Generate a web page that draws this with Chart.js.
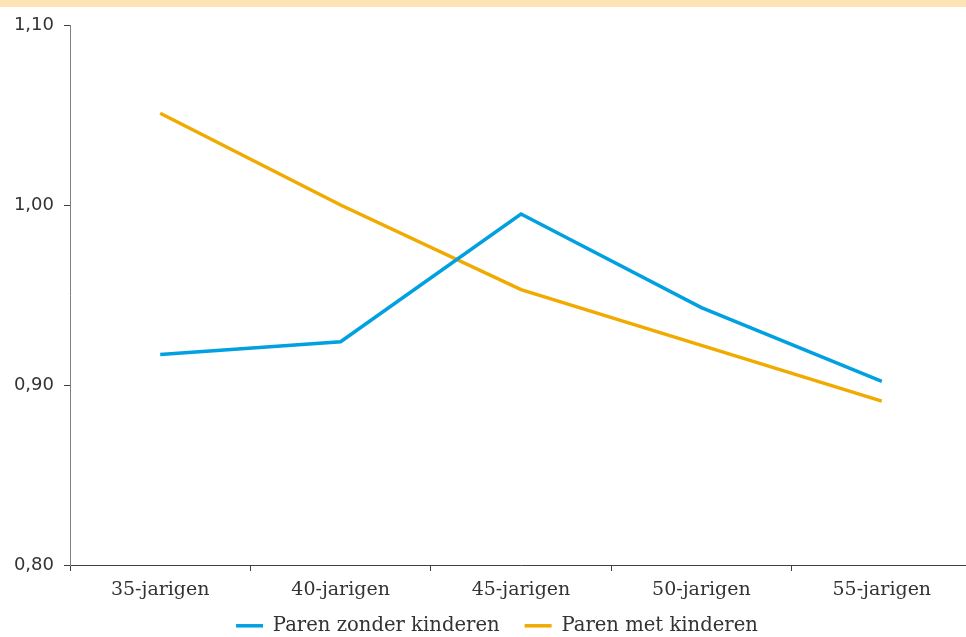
<!DOCTYPE html>
<html lang="nl">
<head>
<meta charset="utf-8">
<title>Paren met en zonder kinderen</title>
<script src="https://cdn.jsdelivr.net/npm/chart.js@4/dist/chart.umd.min.js"></script>
<style>
  html, body { margin: 0; padding: 0; background: #ffffff; overflow: hidden; }
  canvas { display: block; }
</style>
</head>
<body>
<canvas id="chart" width="972" height="637"></canvas>
<script>
// Leeftijdsgroepen op de x-as
const categories = ['35-jarigen', '40-jarigen', '45-jarigen', '50-jarigen', '55-jarigen'];
// Reeksen
const zonderKinderen = [0.917, 0.924, 0.995, 0.943, 0.902];
const metKinderen = [1.051, 1.000, 0.953, 0.922, 0.891];
// Waarden op de y-as
const yTicks = [0.80, 0.90, 1.00, 1.10];
const seriesNames = ['Paren zonder kinderen', 'Paren met kinderen'];

const textColor = '#333333';
const serifFont = '"DejaVu Serif", serif';
const sansFont = '"DejaVu Sans", sans-serif';

// Achtergrond met een lichte band bovenaan
const backdrop = {
  id: 'backdrop',
  beforeDraw(chart) {
    const ctx = chart.ctx;
    ctx.save();
    ctx.fillStyle = '#ffffff';
    ctx.fillRect(0, 0, chart.width, chart.height);
    ctx.fillStyle = '#FDE3B6';
    ctx.fillRect(0, 0, chart.width, 7);
    ctx.restore();
  }
};

// Legenda onder de as plaatsen, iets naar rechts gecentreerd
const legendBox = {
  id: 'legendBox',
  afterLayout(chart) {
    const lg = chart.legend;
    if (!lg) return;
    lg.left = 22;
    lg.right = chart.chartArea.right;
    lg.width = lg.right - lg.left;
    lg.top = 591;
    lg.bottom = chart.height;
    lg.height = lg.bottom - lg.top;
  }
};

new Chart(document.getElementById('chart'), {
  type: 'line',
  data: {
    labels: categories,
    datasets: [
      {
        label: seriesNames[0],
        data: zonderKinderen,
        borderColor: '#00A0E1',
        backgroundColor: '#00A0E1',
        borderWidth: 3.5,
        pointRadius: 0,
        tension: 0,
        fill: false
      },
      {
        label: seriesNames[1],
        data: metKinderen,
        borderColor: '#F0AA00',
        backgroundColor: '#F0AA00',
        borderWidth: 3.5,
        pointRadius: 0,
        tension: 0,
        fill: false
      }
    ]
  },
  options: {
    responsive: false,
    animation: false,
    devicePixelRatio: 1,
    layout: { padding: { left: 0, right: 0, top: 25, bottom: 0 } },
    plugins: {
      tooltip: { enabled: false },
      legend: {
        position: 'bottom',
        align: 'center',
        maxHeight: 32,
        labels: {
          usePointStyle: true,
          pointStyle: 'line',
          pointStyleWidth: 27,
          padding: 25,
          color: textColor,
          font: { family: serifFont, size: 19.6 }
        }
      }
    },
    scales: {
      x: {
        type: 'category',
        offset: true,
        afterFit(scale) { scale.height = 40; },
        border: { display: true, color: '#404040', width: 1 },
        grid: {
          offset: true,
          drawOnChartArea: false,
          drawTicks: true,
          tickLength: 6,
          color: '#404040'
        },
        ticks: {
          color: textColor,
          padding: 8,
          maxRotation: 0,
          font: { family: serifFont, size: 19 }
        }
      },
      y: {
        min: yTicks[0],
        max: yTicks[yTicks.length - 1],
        afterFit(scale) { scale.width = 70; },
        afterBuildTicks(scale) {
          scale.ticks = yTicks.map(v => ({ value: v }));
        },
        border: { display: true, color: '#808080', width: 1 },
        grid: {
          drawOnChartArea: false,
          drawTicks: true,
          tickLength: 6,
          color: '#404040'
        },
        ticks: {
          color: textColor,
          padding: 10,
          font: { family: sansFont, size: 18 },
          callback: (value) => Number(value).toFixed(2).replace('.', ',')
        }
      }
    }
  },
  plugins: [backdrop, legendBox]
});
</script>
</body>
</html>
